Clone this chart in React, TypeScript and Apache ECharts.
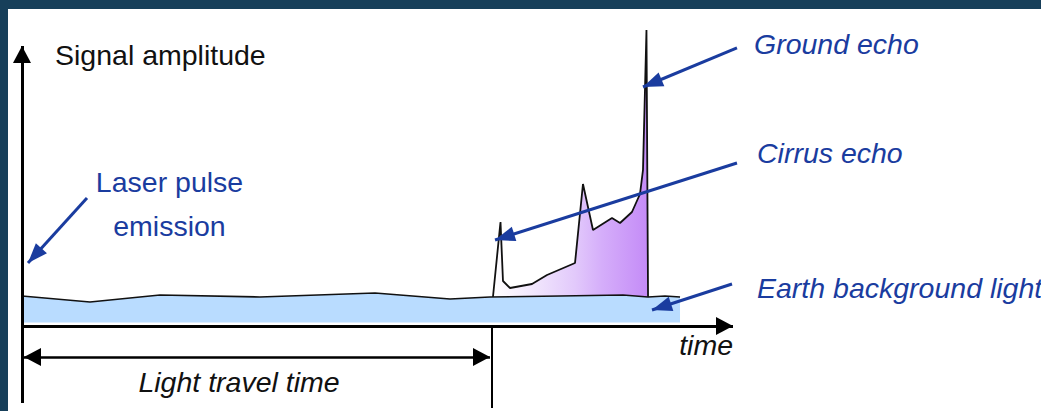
import React, { useEffect, useRef } from 'react';
import * as echarts from 'echarts';

// Units: t = time (0 = laser emission, 100 = end of the time axis)
//        a = signal amplitude (0 = time axis, 100 = ground echo peak)
const baselineT = [0, 9.56, 19.41, 33.47, 49.65, 60.2, 65.82, 75.67, 84.53, 88.05, 90.44, 92.55];
const baselineA = [10.14, 8.11, 10.47, 9.8, 11.15, 9.12, 9.8, 10.14, 10.47, 9.8, 10.14, 9.8];

const echoT = [66.24, 67.3, 67.65, 68.64, 71.73, 73.84, 77.78, 78.9, 80.31, 82.98, 84.11, 85.79, 86.92, 87.34, 87.83, 88.05];
const echoA = [9.8, 35.14, 15.2, 12.84, 14.19, 17.23, 21.28, 47.97, 32.43, 36.49, 34.8, 38.51, 44.59, 52.7, 100, 9.8];

const bandBottom = 1.2;
const echoBottom = 9.8;
const travelTime = 66.03;

// annotation arrows: [start, tip]
const laserArrow = [[9.14, 43.24], [0.84, 21.28]];
const groundArrow = [[100.56, 93.92], [87.34, 80.74]];
const cirrusArrow = [[100.56, 55.07], [66.53, 29.05]];
const earthArrow = [[99.86, 14.19], [88.61, 5.41]];

// axes
const ampAxis = [[0, -26.01], [0, 94.59]];
const timeAxis = [[0.28, 0], [100, 0]];
const travelArrow = [[0.28, -10.47], [65.82, -10.47]];
const travelMarker = [[travelTime, 0], [travelTime, -27.7]];

const xRange = [-1.969, 143.32];
const yRange = [-28.716, 107.09];

export default function App() {
  const ref = useRef<HTMLDivElement>(null);
  useEffect(() => {
    const chart = echarts.init(ref.current!, null, { renderer: 'svg' });
    const pts = (t: number[], a: number[]) => t.map((v, i) => [v, a[i]]);
    const black = '#111111';
    const blue = '#1a3c9f';
    const end = (coord: number[], size?: number[]) =>
      size
        ? { coord, symbol: 'triangle', symbolSize: size, symbolOffset: [0, size[1] / 2] }
        : { coord, symbol: 'none' };
    const kSize = [18, 17];
    const bSize = [15, 20];
    const blueLine = (arr: number[][]) => [end(arr[0]), end(arr[1], bSize)];
    const fontN = '28.5px "Liberation Sans", Arial, sans-serif';
    const fontI = 'italic 28.5px "Liberation Sans", Arial, sans-serif';
    const txt = (text: string, x: number, y: number, fill: string, font: string, align = 'left') => ({
      type: 'text',
      z: 100,
      style: { text, x, y, fill, font, textAlign: align, textVerticalAlign: 'middle' },
    });

    chart.setOption({
      animation: false,
      backgroundColor: 'transparent',
      grid: { left: 8, top: 9, right: 0, bottom: 0, show: true, backgroundColor: '#ffffff', borderWidth: 0 },
      xAxis: { type: 'value', min: xRange[0], max: xRange[1], show: false },
      yAxis: { type: 'value', min: yRange[0], max: yRange[1], show: false },
      series: [
        {
          name: 'Echo',
          type: 'line',
          z: 2,
          symbol: 'none',
          data: pts(echoT, echoA),
          lineStyle: { color: black, width: 1.8 },
          areaStyle: {
            origin: echoBottom,
            opacity: 1,
            color: new echarts.graphic.LinearGradient(0, 0, 1, 0, [
              { offset: 0, color: '#ffffff' },
              { offset: 0.25, color: '#f2e8fd' },
              { offset: 0.53, color: '#e2c9fb' },
              { offset: 0.7, color: '#d5aefa' },
              { offset: 1, color: '#c48bf7' },
            ]),
          },
        },
        {
          name: 'Earth background light',
          type: 'line',
          z: 3,
          symbol: 'none',
          data: pts(baselineT, baselineA),
          lineStyle: { color: black, width: 1.6 },
          areaStyle: { origin: bandBottom, color: '#b9dcff', opacity: 1 },
        },
        {
          name: 'Axes',
          type: 'line',
          z: 4,
          data: [],
          markLine: {
            silent: true,
            animation: false,
            label: { show: false },
            lineStyle: { color: '#000000', width: 3, type: 'solid' },
            data: [
              [end(ampAxis[0]), end(ampAxis[1], kSize)],
              [end(timeAxis[0]), end(timeAxis[1], kSize)],
              [
                { ...end(travelArrow[0], kSize), lineStyle: { width: 2.5 } },
                { ...end(travelArrow[1], kSize), lineStyle: { width: 2.5 } },
              ],
              [
                { ...end(travelMarker[0]), lineStyle: { width: 2 } },
                { ...end(travelMarker[1]), lineStyle: { width: 2 } },
              ],
            ],
          },
        },
        {
          name: 'Annotations',
          type: 'line',
          z: 5,
          data: [],
          markLine: {
            silent: true,
            animation: false,
            label: { show: false },
            lineStyle: { color: blue, width: 3, type: 'solid' },
            data: [blueLine(laserArrow), blueLine(groundArrow), blueLine(cirrusArrow), blueLine(earthArrow)],
          },
        },
      ],
      graphic: {
        elements: [
          txt('Signal amplitude', 55, 54.8, black, fontN),
          txt('Laser pulse', 169.5, 182, blue, fontN, 'center'),
          txt('emission', 169.5, 225.5, blue, fontN, 'center'),
          txt('Ground echo', 754, 44.3, blue, fontI),
          txt('Cirrus echo', 757, 153.3, blue, fontI),
          txt('Earth background light', 757, 287.6, blue, fontI),
          txt('time', 733, 344.6, black, fontI, 'right'),
          txt('Light travel time', 239, 382, black, fontI, 'center'),
        ],
      },
    });
    return () => chart.dispose();
  }, []);
  return (
    <div
      ref={ref}
      style={{ position: 'absolute', left: 0, top: 0, width: 1041, height: 411, background: '#173f5a' }}
    />
  );
}
